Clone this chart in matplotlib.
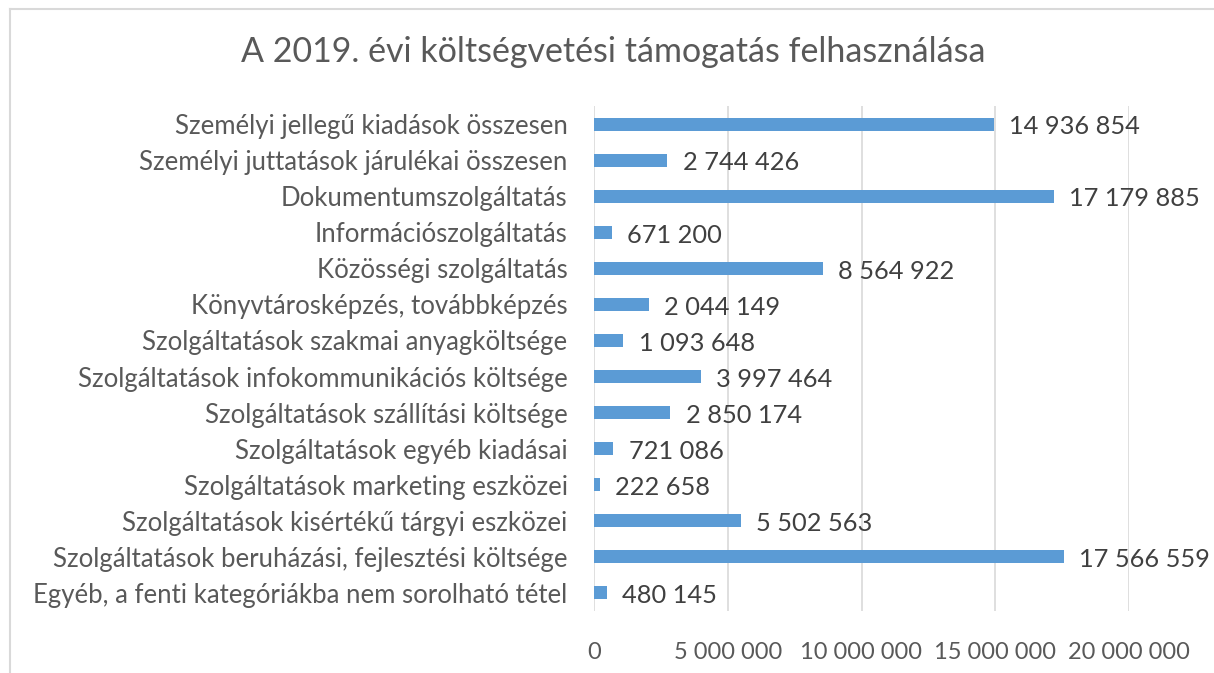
import matplotlib
matplotlib.use("Agg")
from matplotlib import pyplot as plt
from matplotlib.lines import Line2D

categories = [
    "Személyi jellegű kiadások összesen",
    "Személyi juttatások járulékai összesen",
    "Dokumentumszolgáltatás",
    "Információszolgáltatás",
    "Közösségi szolgáltatás",
    "Könyvtárosképzés, továbbképzés",
    "Szolgáltatások szakmai anyagköltsége",
    "Szolgáltatások infokommunikációs költsége",
    "Szolgáltatások szállítási költsége",
    "Szolgáltatások egyéb kiadásai",
    "Szolgáltatások marketing eszközei",
    "Szolgáltatások kisértékű tárgyi eszközei",
    "Szolgáltatások beruházási, fejlesztési költsége",
    "Egyéb, a fenti kategóriákba nem sorolható tétel",
]
values = [14936854, 2744426, 17179885, 671200, 8564922, 2044149, 1093648,
          3997464, 2850174, 721086, 222658, 5502563, 17566559, 480145]
xticks = [0, 5000000, 10000000, 15000000, 20000000]

def fmt(v):
    return f"{v:,}".replace(",", " ")

plt.rcParams['font.family'] = ['Lato', 'DejaVu Sans']
grey = "#595959"

fig = plt.figure(figsize=(12.14, 6.73), dpi=100)
# chart frame: only the left and top edges show inside the picture
x0, y0 = 9.5/1214, 1 - 8.5/673
fig.lines.append(Line2D([x0, x0], [0, y0], transform=fig.transFigure,
                        color="#d9d9d9", linewidth=1.5))
fig.lines.append(Line2D([x0, 1], [y0, y0], transform=fig.transFigure,
                        color="#d9d9d9", linewidth=1.5))
ax = fig.add_axes([594/1214, 1 - 611/673, 535/1214, 505/673])

pos = list(range(len(categories)))
ax.barh(pos, values, height=0.36, color="#5b9bd5", zorder=3)
ax.set_ylim(len(categories) - 0.5, -0.5)
ax.set_xlim(0, 20000000)
ax.set_yticks(pos)
ax.set_yticklabels(categories, fontsize=18.5, color=grey)
ax.set_xticks(xticks)
ax.set_xticklabels([fmt(t) for t in xticks], fontsize=17, color=grey)
ax.tick_params(length=0)
ax.tick_params(axis="y", pad=19)
ax.tick_params(axis="x", pad=22)
for s in ax.spines.values():
    s.set_visible(False)
ax.grid(axis="x", color="#d9d9d9", linewidth=1.2, zorder=0)

for p, v in zip(pos, values):
    ax.annotate(fmt(v), (v, p), xytext=(11, -2), textcoords="offset points",
                va="center", ha="left", fontsize=18.3, color="#404040")

fig.text(613.5/1214, 1 - 52/673, "A 2019. évi költségvetési támogatás felhasználása",
         ha="center", va="center", fontsize=24.5, color=grey)

fig.savefig("out.png", dpi=100)
